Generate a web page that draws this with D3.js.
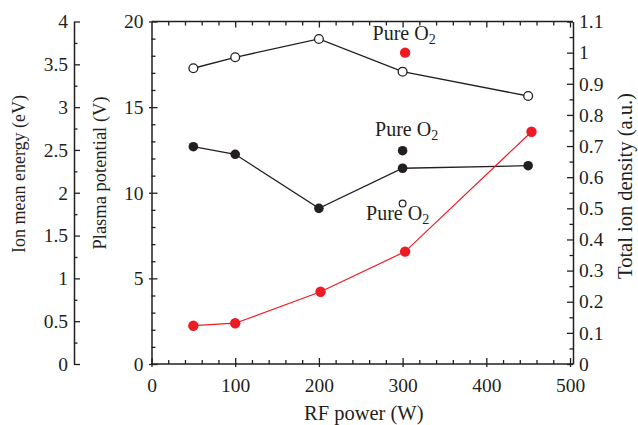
<!DOCTYPE html>
<html>
<head>
<meta charset="utf-8">
<script src="https://cdn.jsdelivr.net/npm/d3@7"></script>
<style>
  html, body { margin: 0; padding: 0; background: #fff; }
  svg { display: block; }
</style>
</head>
<body>
<svg id="chart" width="638" height="425"></svg>
<script>
// ---- data ----
const powerTicks = [0, 100, 200, 300, 400, 500];
const potentialTicks = [0, 5, 10, 15, 20];
const energyTicks = [0, 0.5, 1, 1.5, 2, 2.5, 3, 3.5, 4];
const densityTicks = [0, 0.1, 0.2, 0.3, 0.4, 0.5, 0.6, 0.7, 0.8, 0.9, 1, 1.1];

// open circles: plasma potential (V)
const potentialPower = [50, 100, 200, 300, 450];
const potentialValues = [17.27, 17.91, 18.98, 17.07, 15.65];
const potentialPureO2 = { power: 300, value: 9.37 };

// filled black: ion mean energy (eV)
const energyPower = [50, 100, 200, 300, 450];
const energyValues = [2.538, 2.449, 1.818, 2.286, 2.316];
const energyPureO2 = { power: 300, value: 2.491 };

// red: total ion density (a.u.)
const densityPower = [50, 100, 202, 303, 454];
const densityValues = [0.123, 0.131, 0.232, 0.361, 0.746];
const densityPureO2 = { power: 303, value: 1.0 };

const labelText = "Pure O";
const labelSub = "2";

// ---- layout ----
const FONT = "Liberation Serif";
const svg = d3.select("#chart");
const pLeft = 151.5, pRight = 570, pBottom = 364, pTop = 21.5;
const spineRight = pRight + 3;
const energyAxisX = 74;

const x = d3.scaleLinear().domain([0, 500]).range([pLeft, pRight]);
const yV = d3.scaleLinear().domain([0, 20]).range([pBottom, pTop]);
const yE = d3.scaleLinear().domain([0, 4]).range([pBottom, pTop]);
const yD = d3.scaleLinear().domain([0, 1.1]).range([pBottom, pTop]);

const black = "#231f20";
const red = "#ed1c24";
const tickFont = "19.5px";

function styleAxis(g) {
  g.attr("font-family", FONT);
  g.selectAll("path.domain").attr("stroke", black).attr("stroke-width", 1.5);
  g.selectAll(".tick line").attr("stroke", black).attr("stroke-width", 1.3);
  g.selectAll("text").style("font-size", tickFont).attr("font-family", FONT).attr("fill", black);
}

// frame lines
svg.append("line").attr("x1", pLeft).attr("x2", spineRight).attr("y1", pTop).attr("y2", pTop)
  .attr("stroke", black).attr("stroke-width", 1.5);
svg.append("line").attr("x1", pLeft).attr("x2", spineRight).attr("y1", pBottom).attr("y2", pBottom)
  .attr("stroke", black).attr("stroke-width", 1.5);

// ---- bottom axis ----
const minorX = d3.range(0, 501, 20).filter(v => v % 100 !== 0);
svg.append("g").attr("transform", `translate(0,${pBottom})`)
  .call(d3.axisBottom(x).tickValues(minorX).tickSizeInner(-4).tickSizeOuter(0).tickFormat(""))
  .call(styleAxis).call(g => g.select(".domain").remove());
svg.append("g").attr("transform", `translate(0,${pBottom})`)
  .call(d3.axisBottom(x).tickValues(powerTicks).tickSizeInner(3).tickSizeOuter(0).tickFormat(""))
  .call(styleAxis).call(g => g.select(".domain").remove());
const xAx = svg.append("g").attr("transform", `translate(0,${pBottom})`)
  .call(d3.axisBottom(x).tickValues(powerTicks).tickSizeInner(-6).tickSizeOuter(0).tickFormat(d3.format("d")))
  .call(styleAxis).call(g => g.select(".domain").remove());
xAx.selectAll("text").attr("y", 28).attr("dy", null);

// ---- top axis (ticks only) ----
svg.append("g").attr("transform", `translate(0,${pTop})`)
  .call(d3.axisTop(x).tickValues(minorX).tickSizeInner(-4).tickSizeOuter(0).tickFormat(""))
  .call(styleAxis).call(g => g.select(".domain").remove());
svg.append("g").attr("transform", `translate(0,${pTop})`)
  .call(d3.axisTop(x).tickValues(powerTicks.slice(1)).tickSizeInner(-6).tickSizeOuter(0).tickFormat(""))
  .call(styleAxis).call(g => g.select(".domain").remove());

// ---- plasma potential axis ----
svg.append("g").attr("transform", `translate(${pLeft},0)`)
  .call(d3.axisLeft(yV).tickValues(d3.range(0, 21, 1).filter(v => v % 5 !== 0)).tickSizeInner(-4).tickSizeOuter(0).tickFormat(""))
  .call(styleAxis).call(g => g.select(".domain").remove());
svg.append("g").attr("transform", `translate(${pLeft},0)`)
  .call(d3.axisLeft(yV).tickValues(potentialTicks).tickSizeInner(2.5).tickSizeOuter(0).tickFormat(""))
  .call(styleAxis).call(g => g.select(".domain").remove());
svg.append("g").attr("transform", `translate(${pLeft},0)`)
  .call(d3.axisLeft(yV).tickValues(potentialTicks).tickSizeInner(-6).tickSizeOuter(0).tickPadding(8).tickFormat(d3.format("d")))
  .call(styleAxis);

// ---- ion mean energy axis ----
svg.append("g").attr("transform", `translate(${energyAxisX},0)`)
  .call(d3.axisLeft(yE).tickValues(d3.range(0.25, 4, 0.5)).tickSizeInner(-3.5).tickSizeOuter(0).tickFormat(""))
  .call(styleAxis).call(g => g.select(".domain").remove());
svg.append("g").attr("transform", `translate(${energyAxisX},0)`)
  .call(d3.axisLeft(yE).tickValues(energyTicks).tickSizeInner(-6).tickSizeOuter(0).tickPadding(6).tickFormat(d3.format("")))
  .call(styleAxis);

// ---- total ion density axis ----
svg.append("g").attr("transform", `translate(${spineRight},0)`)
  .call(d3.axisRight(yD).tickValues(d3.range(0.05, 1.1, 0.1)).tickSizeInner(-3.5).tickSizeOuter(0).tickFormat(""))
  .call(styleAxis).call(g => g.select(".domain").remove());
svg.append("g").attr("transform", `translate(${spineRight},0)`)
  .call(d3.axisRight(yD).tickValues(densityTicks).tickSizeInner(-6).tickSizeOuter(0).tickPadding(6).tickFormat(d3.format("")))
  .call(styleAxis);

// ---- axis titles ----
function title(sel, size) {
  return sel.attr("text-anchor", "middle").style("font-size", size)
    .attr("font-family", FONT).attr("fill", black);
}
svg.append("text").attr("x", (pLeft + pRight) / 2 + 3).attr("y", 420)
  .call(title, "20.5px").text("RF power (W)");
svg.append("text").attr("transform", `translate(25,174) rotate(-90)`)
  .call(title, "18px").text("Ion mean energy (eV)");
svg.append("text").attr("transform", `translate(106,173) rotate(-90)`)
  .call(title, "18.5px").text("Plasma potential (V)");
svg.append("text").attr("transform", `translate(632,186) rotate(-90)`)
  .call(title, "20.5px").text("Total ion density (a.u.)");

// ---- series ----
const line = (xs, ys, sy) => d3.line().x((d, i) => x(xs[i])).y((d, i) => sy(ys[i]))(ys);

svg.append("path").attr("d", line(potentialPower, potentialValues, yV))
  .attr("fill", "none").attr("stroke", black).attr("stroke-width", 1.3);
svg.append("path").attr("d", line(energyPower, energyValues, yE))
  .attr("fill", "none").attr("stroke", black).attr("stroke-width", 1.3);
svg.append("path").attr("d", line(densityPower, densityValues, yD))
  .attr("fill", "none").attr("stroke", red).attr("stroke-width", 1.2);

svg.append("g").selectAll("circle").data(potentialValues).join("circle")
  .attr("cx", (d, i) => x(potentialPower[i])).attr("cy", d => yV(d)).attr("r", 4.4)
  .attr("fill", "#fff").attr("stroke", black).attr("stroke-width", 1.3);
svg.append("g").selectAll("circle").data(energyValues).join("circle")
  .attr("cx", (d, i) => x(energyPower[i])).attr("cy", d => yE(d)).attr("r", 4.8)
  .attr("fill", black);
svg.append("g").selectAll("circle").data(densityValues).join("circle")
  .attr("cx", (d, i) => x(densityPower[i])).attr("cy", d => yD(d)).attr("r", 5.2)
  .attr("fill", red);

// pure O2 points
svg.append("circle").attr("cx", x(potentialPureO2.power)).attr("cy", yV(potentialPureO2.value))
  .attr("r", 3.4).attr("fill", "#fff").attr("stroke", black).attr("stroke-width", 1.2);
svg.append("circle").attr("cx", x(energyPureO2.power)).attr("cy", yE(energyPureO2.value))
  .attr("r", 4.8).attr("fill", black);
svg.append("circle").attr("cx", x(densityPureO2.power)).attr("cy", yD(densityPureO2.value))
  .attr("r", 5.2).attr("fill", red);

// pure O2 labels
const labels = [
  { px: x(densityPureO2.power) - 1, py: yD(densityPureO2.value) - 12.3 },
  { px: x(energyPureO2.power) + 4, py: yE(energyPureO2.value) - 14.3 },
  { px: x(potentialPureO2.power) - 5, py: yV(potentialPureO2.value) + 16.7 }
];
labels.forEach(l => {
  const t = svg.append("text").attr("x", l.px).attr("y", l.py)
    .call(title, "20px");
  t.append("tspan").text(labelText);
  t.append("tspan").attr("dy", 4).style("font-size", "14px").text(labelSub);
});
</script>
</body>
</html>
